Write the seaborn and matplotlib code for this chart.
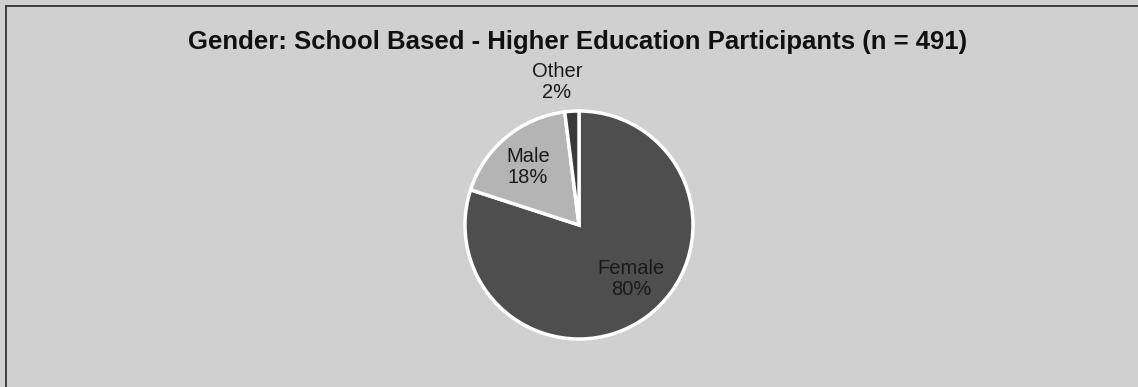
import matplotlib
matplotlib.use("Agg")
import matplotlib.pyplot as plt
import seaborn as sns
from matplotlib.lines import Line2D

categories = ["Female", "Male", "Other"]
percents = [80, 18, 2]
title = "Gender: School Based - Higher Education Participants (n = 491)"

sns.set_theme(style="white")
plt.rcParams['font.family'] = ['Liberation Sans', 'DejaVu Sans']

colors = ["#4e4e4e", "#b4b4b4", "#3a3a3a"]
bg = "#d0d0d0"
H = 387

fig = plt.figure(figsize=(11.38, 3.87), dpi=100)
fig.patch.set_facecolor(bg)
ax = fig.add_axes([0, 0, 1, 1])
ax.set_facecolor(bg)

labels = [f"{c}\n{p}%" for c, p in zip(categories, percents)]
wedges, texts = ax.pie(
    percents, colors=colors, startangle=90, counterclock=False,
    center=(579, H - 225), radius=114, explode=[0, 0.02, 0.02],
    wedgeprops=dict(edgecolor="white", linewidth=2.5),
    frame=False,
)
ax.set_xlim(0, 1138)
ax.set_ylim(0, H)
ax.set_aspect("equal")
ax.axis("off")

# labels
fs = 14.5
ax.text(631, H - 279, labels[0], ha="center", va="center", fontsize=fs, color="#1a1a1a", linespacing=1.15)
ax.text(528, H - 167, labels[1], ha="center", va="center", fontsize=fs, color="#1a1a1a", linespacing=1.15)
ax.text(557, H - 82, labels[2], ha="center", va="center", fontsize=fs, color="#1a1a1a", linespacing=1.15)

ax.text(578, H - 42, title, ha="center", va="center", fontsize=18.5, fontweight="bold", color="#111111")

fig.add_artist(Line2D([6 / 1138, 6 / 1138], [0, 1 - 6 / H], transform=fig.transFigure, color="#333333", linewidth=1.3))
fig.add_artist(Line2D([6 / 1138, 1], [1 - 6 / H, 1 - 6 / H], transform=fig.transFigure, color="#333333", linewidth=1.3))

fig.savefig("out.png", dpi=100, facecolor=fig.get_facecolor())
